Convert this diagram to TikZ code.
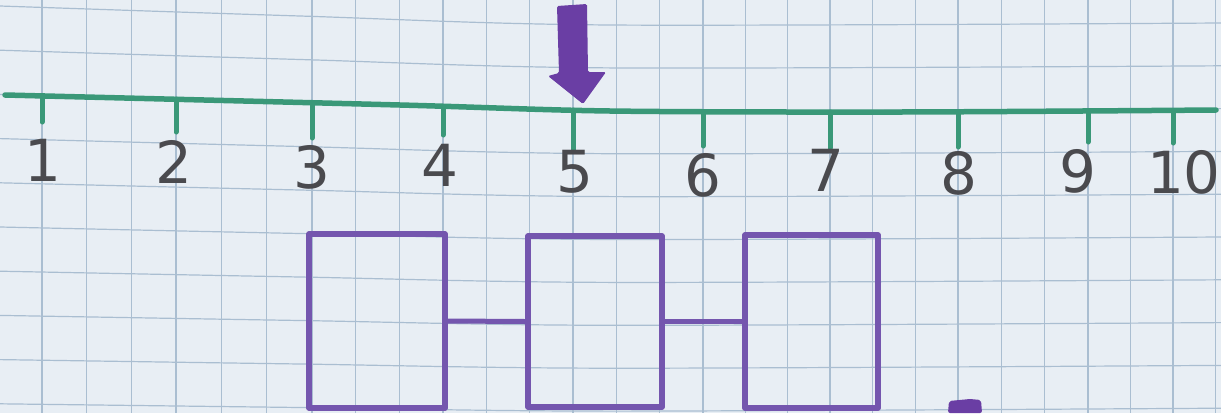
\documentclass[tikz,border=0pt]{standalone}
\usepackage{fontspec}
\setmainfont{DejaVu Sans}
\definecolor{paper}{HTML}{E8EEF4}
\definecolor{gridc}{HTML}{AABED1}
\definecolor{greenl}{HTML}{3A9878}
\definecolor{purpbox}{HTML}{7456AE}
\definecolor{purparr}{HTML}{6A3EA4}
\definecolor{ink}{HTML}{4A4A4E}
\tikzset{
  gridline/.style={draw=gridc, line width=1.2pt},
  numline/.style={draw=greenl, line width=5.5pt, line cap=round},
  tickmark/.style={draw=greenl, line width=5pt, line cap=round},
  digit/.style={text=ink, font=\fontsize{58}{58}\selectfont, inner sep=0pt},
  sqbox/.style={draw=purpbox, line width=5.5pt, inner sep=0pt, line join=round},
  link/.style={draw=purpbox, line width=5pt},
}
\begin{document}
\begin{tikzpicture}[x=1pt,y=-1pt]
\useasboundingbox (0,0) rectangle (1221,413);
\fill[paper] (0,0) rectangle (1221,413);
% grid
\foreach \gx in {42,86.7,131.3,176,221.3,266.7,312,355.7,399.3,443,486.3,529.7,573,616.3,659.7,703,745.3,787.7,830,872.7,915.3,958,1001.3,1044.7,1088,1130.5,1173,1215.5}
  \draw[gridline] (\gx,0) -- (\gx,413);
\foreach \k in {0,...,9} {
  \pgfmathsetmacro{\ya}{6+44.2*\k}
  \pgfmathsetmacro{\yb}{16+43.5*\k}
  \pgfmathsetmacro{\yc}{25+42.9*\k}
  \pgfmathsetmacro{\yd}{23+42.8*\k}
  \draw[gridline] plot[smooth] coordinates {(0,\ya) (300,\yb) (610,\yc) (1221,\yd)};
}
% number line
\draw[numline] plot[smooth] coordinates {(5,95) (400,105) (610,111) (900,112) (1216,110)};
% ticks and labels
\foreach \n/\tx/\ta/\tb/\lx/\ly in {1/42/96/122/43/160, 2/176/99/132/174/162, 3/312/104/138/312/167, 4/443/107/135/440/165, 5/573/110/150/575/172, 6/703/112/146/703/175, 7/830/112/148/826/170, 8/958/112/147/959/173, 9/1088/112/142/1078/171, 10/1173/111/143/1184/172} {
  \coordinate (t\n a) at (\tx,\ta);
  \coordinate (t\n b) at (\tx,\tb);
  \draw[tickmark] (t\n a) -- (t\n b);
  \node[digit] (l\n) at (\lx,\ly) {\n};
}
% arrow
\fill[purparr, rounded corners=1.5pt] (557,6) -- (587,4) -- (588,72) -- (606,72) -- (583,104) -- (548,76) -- (559,73) -- cycle;
% boxes
\node[sqbox, minimum width=136pt, minimum height=174pt] (b1) at (377,321) {};
\node[sqbox, minimum width=134pt, minimum height=171pt] (b2) at (595,321.5) {};
\node[sqbox, minimum width=133pt, minimum height=173pt] (b3) at (811.5,321.5) {};
\draw[link] (b1.east) -- (b2.west);
\draw[link] (b2.east) -- (b3.west);
% partial mark at bottom
\fill[purparr, rounded corners=2pt] (949,401) -- (970,399) -- (981,400) -- (982,413) -- (948,413) -- cycle;
\end{tikzpicture}
\end{document}
